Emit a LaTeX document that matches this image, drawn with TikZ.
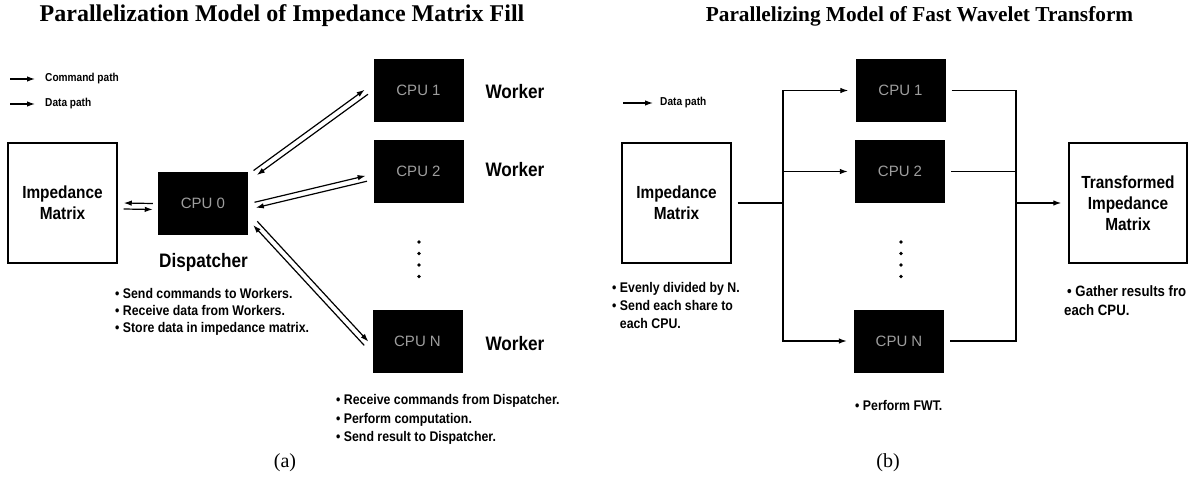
\documentclass[tikz,border=0pt]{standalone}
\usepackage{fontspec}
\setmainfont{Liberation Serif}
\newfontfamily\narrowsans[FakeStretch=0.88]{Liberation Sans}
\newfontfamily\plainsans{Liberation Sans}
\usetikzlibrary{arrows.meta,calc}
\definecolor{cputext}{gray}{0.62}
\tikzset{
  panel title/.style = {anchor=base, font=\bfseries\fontsize{22.5}{26}\selectfont},
  caption/.style = {anchor=base, font=\fontsize{20}{24}\selectfont},
  matrixbox/.style = {draw, line width=1.4pt, minimum width=109pt, minimum height=120pt,
    align=center, font=\narrowsans\bfseries\fontsize{17.5}{21}\selectfont},
  cpu/.style = {fill=black, minimum width=90pt, minimum height=63pt, inner sep=0pt,
    text=cputext, font=\plainsans\fontsize{15}{15}\selectfont},
  role/.style = {anchor=base west, font=\narrowsans\bfseries\fontsize{19.5}{22}\selectfont},
  note/.style = {anchor=base west, inner sep=0pt, font=\narrowsans\bfseries\fontsize{14}{17}\selectfont},
  legend/.style = {anchor=west, inner sep=0pt, font=\narrowsans\bfseries\fontsize{11.5}{13}\selectfont},
  wire/.style = {line width=1.2pt},
  arr/.style = {wire, -{Latex[length=8pt,width=5.5pt]}}
}

\begin{document}
\begin{tikzpicture}[x=1pt,y=-1pt]
  \path[use as bounding box, fill=white] (0,0) rectangle (1199,489);
  %
  % (a) impedance matrix fill
  \node[panel title, font=\bfseries\fontsize{24}{28}\selectfont] (titleA) at (282,22)
    {Parallelization Model of Impedance Matrix Fill};
  \node[legend] (lgcmd) at (45,79) {Command path};
  \node[legend] (lgdata) at (45,104) {Data path};
  \draw[arr] ([xshift=-35pt]lgcmd.west) -- ([xshift=-10pt]lgcmd.west);
  \draw[arr] ([xshift=-35pt]lgdata.west) -- ([xshift=-10pt]lgdata.west);
  %
  \node[matrixbox] (imp) at (62.5,203) {Impedance\\Matrix};
  \node[cpu] (cpu0) at (203,203.5) {CPU 0};
  \node[cpu] (cpu1) at (418.5,90.5) {CPU 1};
  \node[cpu] (cpu2) at (418.5,171.5) {CPU 2};
  \node[cpu] (cpuN) at (417.5,341.5) {CPU N};
  \node[role, anchor=base] (disp) at (203.5,267) {Dispatcher};
  \foreach \n/\y in {cpu1/99,cpu2/177,cpuN/350}
    \node[role] (w-\n) at (482,\y) {Worker};
  \foreach \y in {242,253.5,265,276.5}
    \fill (419,\y) circle (1.9);
  % matrix <-> dispatcher
  \coordinate (m1) at ([shift={(6,3)}]imp.east);
  \coordinate (m2) at ([shift={(-5,3)}]cpu0.west);
  \draw[arr] ($(m2)!3pt!-90:(m1)$) -- ($(m1)!3pt!90:(m2)$);
  \draw[arr] ($(m1)!3pt!-90:(m2)$) -- ($(m2)!3pt!90:(m1)$);
  % dispatcher <-> workers
  \coordinate (s1) at ([shift={(7,1)}]cpu0.north east);
  \coordinate (t1) at ([shift={(-7,1.5)}]cpu1.west);
  \coordinate (s2) at ([shift={(7,1.5)}]cpu0.east);
  \coordinate (t2) at ([shift={(-7,7)}]cpu2.west);
  \coordinate (s3) at ([shift={(7,-12)}]cpu0.south east);
  \coordinate (t3) at ([shift={(-6,2)}]cpuN.west);
  \foreach \s/\t in {s1/t1,s2/t2,s3/t3} {
    \draw[arr] ($(\s)!2.8pt!90:(\t)$) -- ($(\t)!2.8pt!-90:(\s)$);
    \draw[arr] ($(\t)!2.8pt!90:(\s)$) -- ($(\s)!2.8pt!-90:(\t)$);
  }
  % notes
  \foreach \txt [count=\i] in {Send commands to Workers.,Receive data from Workers.,Store data in impedance matrix.}
    \node[note] (dnote\i) at (115,{281+17*\i}) {\textbullet\ \txt};
  \foreach \txt [count=\i] in {Receive commands from Dispatcher.,Perform computation.,Send result to Dispatcher.}
    \node[note] (wnote\i) at (336,{386+18.5*\i}) {\textbullet\ \txt};
  \node[caption] (capA) at (285,467) {(a)};
  %
  % (b) fast wavelet transform
  \node[panel title, font=\bfseries\fontsize{21.3}{25}\selectfont] (titleB) at (919.5,22)
    {Parallelizing Model of Fast Wavelet Transform};
  \node[legend] (lgdata2) at (660,103) {Data path};
  \draw[arr] ([xshift=-37pt]lgdata2.west) -- ([xshift=-7pt]lgdata2.west);
  %
  \node[matrixbox] (imp2) at (676.5,203) {Impedance\\Matrix};
  \node[cpu] (cpub1) at (900.5,90.5) {CPU 1};
  \node[cpu] (cpub2) at (900,171.5) {CPU 2};
  \node[cpu] (cpubN) at (899,341) {CPU N};
  \node[matrixbox, minimum width=118pt] (tim) at (1128,203) {Transformed\\Impedance\\Matrix};
  \foreach \y in {242,253.5,265,276.5}
    \fill (901,\y) circle (1.9);
  % scatter and gather
  \coordinate (split) at (783,203);
  \coordinate (join) at (1016,203);
  \draw[wire] ([xshift=6pt]imp2.east) -- (split);
  \foreach \n in {cpub1,cpub2,cpubN} {
    \draw[arr] (split) |- ([xshift=-7pt]\n.west);
    \draw[wire] ([xshift=6pt]\n.east) -| (join);
  }
  \draw[arr] (join) -- ([xshift=-7pt]tim.west);
  % notes
  \node[note] (enote1) at (612,292) {\textbullet\ Evenly divided by N.};
  \node[note] (enote2) at (612,310) {\textbullet\ Send each share to};
  \node[note] (enote3) at (612,328) {\phantom{\textbullet\ }each CPU.};
  \node[note] (fnote) at (855,410.5) {\textbullet\ Perform FWT.};
  \node[note, font=\narrowsans\bfseries\fontsize{15}{18}\selectfont] (gnote1) at (1067,296.5)
    {\textbullet\ Gather results fro};
  \node[note, font=\narrowsans\bfseries\fontsize{15}{18}\selectfont] (gnote2) at (1064,315.5)
    {each CPU.};
  \node[caption] (capB) at (888,467) {(b)};
\end{tikzpicture}
\end{document}
